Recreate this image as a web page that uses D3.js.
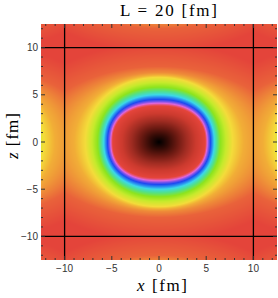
<!DOCTYPE html>
<html><head><meta charset="utf-8">
<script src="https://cdn.jsdelivr.net/npm/d3@7"></script>
<style>body{margin:0;background:#fff} svg{display:block}</style>
</head><body>
<script>
// Field level contours: where each level crosses the x axis and the z axis (fm)
const levels     = [2.0, 1.6, 1.2, 1.0, 0.83, 0.67, 0.5, 0.33, 0.25, 0.17, 0.13, 0.10, 0.05, 0.0];
const radiusX    = [0.0, 1.95, 3.9, 4.9, 5.1, 5.45, 5.85, 6.5, 7.1, 7.8, 9.0, 11.0, 13.5, 16.5];
const radiusZ    = [0.0, 1.5, 3.0, 3.8, 4.1, 4.5, 5.0, 5.8, 6.3, 6.85, 7.1, 7.35, 8.0, 10.5];
const squareness = [2.35, 2.35, 2.35, 2.35, 2.35, 2.3, 2.25, 2.2, 2.15, 2.1, 2.05, 2.0, 2.0, 2.0];
// periodic images of the box (L = 20 fm)
const imageShifts = [-20, 0, 20];
// colour function (cyclic hue, then darkening)
const colorStops = [0, 0.05, 0.10, 0.14, 0.17, 0.25, 0.33, 0.42, 0.5, 0.58, 0.67, 0.75, 0.83, 0.92, 1.0, 1.2, 1.4, 1.6, 1.8, 2.0];
const colorRange = ["#e4443a","#e9623a","#ee8c38","#f2b836","#f3dc3a","#c6ea2c","#8ce41e","#52e08a","#3cd8e8","#2a92f0","#1e48f0","#7452ea","#de66de","#e65274","#e4443a","#cc3a2e","#a02c22","#6c1a12","#340b06","#000000"];
// axes
const domain = [-12.5, 12.5];
const majorTicks = [-10, -5, 0, 5, 10];
const minorTicks = d3.range(-12, 13);
const boxLines = [-10, 10];
const title = "L = 20 [fm]";

(function () {
const W = 278, H = 298;
const pl = 41, pt = 24, size = 236;
const xs = d3.scaleLinear().domain(domain).range([pl, pl + size]);
const ys = d3.scaleLinear().domain(domain).range([pt + size, pt]);
const color = d3.scaleLinear().domain(colorStops).range(colorRange).interpolate(d3.interpolateRgb).clamp(true);

function field(dx, dz) {
  const r = Math.hypot(dx, dz);
  if (r === 0) return levels[0];
  const c = Math.abs(dx) / r, s = Math.abs(dz) / r;
  let prevR = 0, prevT = levels[0];
  for (let k = 1; k < levels.length; k++) {
    const p = squareness[k];
    let R = 1 / Math.pow(Math.pow(c / radiusX[k], p) + Math.pow(s / radiusZ[k], p), 1 / p);
    if (R <= prevR) R = prevR + 1e-6;
    if (r <= R) return prevT + (levels[k] - prevT) * (r - prevR) / (R - prevR);
    prevR = R; prevT = levels[k];
  }
  return levels[levels.length - 1];
}

const canvas = document.createElement("canvas");
canvas.width = size; canvas.height = size;
const ctx = canvas.getContext("2d");
const img = ctx.createImageData(size, size);
for (let j = 0; j < size; j++) {
  const z = ys.invert(pt + j + 0.5);
  for (let i = 0; i < size; i++) {
    const x = xs.invert(pl + i + 0.5);
    let t = 0;
    for (const sx of imageShifts) for (const sz of imageShifts) {
      const v = field(x - sx, z - sz);
      if (v > t) t = v;
    }
    const c = d3.rgb(color(t));
    const o = (j * size + i) * 4;
    img.data[o] = c.r; img.data[o + 1] = c.g; img.data[o + 2] = c.b; img.data[o + 3] = 255;
  }
}
ctx.putImageData(img, 0, 0);

const svg = d3.select("body").append("svg").attr("width", W).attr("height", H);
svg.append("image").attr("x", pl).attr("y", pt).attr("width", size).attr("height", size)
  .attr("preserveAspectRatio", "none").attr("href", canvas.toDataURL());

svg.selectAll("line.vx").data(boxLines).join("line").attr("class", "vx")
  .attr("x1", d => xs(d)).attr("x2", d => xs(d)).attr("y1", pt).attr("y2", pt + size)
  .attr("stroke", "#000").attr("stroke-width", 1.3);
svg.selectAll("line.hz").data(boxLines).join("line").attr("class", "hz")
  .attr("y1", d => ys(d)).attr("y2", d => ys(d)).attr("x1", pl).attr("x2", pl + size)
  .attr("stroke", "#000").attr("stroke-width", 1.3);

const tickG = svg.append("g").attr("stroke", "#333").attr("stroke-width", 1);
const ticks = minorTicks.map(v => ({v, len: majorTicks.includes(v) ? 4 : 2}));
tickG.selectAll("line.b").data(ticks).join("line").attr("class", "b").attr("x1", d => xs(d.v)).attr("x2", d => xs(d.v))
  .attr("y1", pt + size).attr("y2", d => pt + size - d.len);
tickG.selectAll("line.t").data(ticks).join("line").attr("class", "t").attr("x1", d => xs(d.v)).attr("x2", d => xs(d.v))
  .attr("y1", pt).attr("y2", d => pt + d.len);
tickG.selectAll("line.l").data(ticks).join("line").attr("class", "l").attr("y1", d => ys(d.v)).attr("y2", d => ys(d.v))
  .attr("x1", pl).attr("x2", d => pl + d.len);
tickG.selectAll("line.r").data(ticks).join("line").attr("class", "r").attr("y1", d => ys(d.v)).attr("y2", d => ys(d.v))
  .attr("x1", pl + size).attr("x2", d => pl + size - d.len);

const fmt = d => d < 0 ? "\u2212" + Math.abs(d) : String(d);
svg.selectAll("text.xl").data(majorTicks).join("text").attr("class", "xl")
  .attr("x", d => xs(d)).attr("y", 272).attr("text-anchor", "middle")
  .attr("font-family", "Liberation Sans, Arial, sans-serif").attr("font-size", 10).attr("fill", "#333")
  .text(fmt);
svg.selectAll("text.yl").data(majorTicks).join("text").attr("class", "yl")
  .attr("x", 38).attr("y", d => ys(d) + 3.5).attr("text-anchor", "end")
  .attr("font-family", "Liberation Sans, Arial, sans-serif").attr("font-size", 10).attr("fill", "#333")
  .text(fmt);

const serif = "Liberation Serif, Times New Roman, serif";
svg.append("text").attr("x", 168.5).attr("y", 15.5).attr("text-anchor", "middle")
  .attr("font-family", serif).attr("font-size", 17).attr("textLength", 97).attr("lengthAdjust", "spacing")
  .text(title);

const xl = svg.append("text").attr("x", 162).attr("y", 291).attr("text-anchor", "middle")
  .attr("font-family", serif).attr("font-size", 17).attr("textLength", 50).attr("lengthAdjust", "spacing");
xl.append("tspan").attr("font-style", "italic").text("x");
xl.append("tspan").text(" [fm]");

const yl = svg.append("text").attr("transform", "translate(18,136) rotate(-90)").attr("text-anchor", "middle")
  .attr("font-family", serif).attr("font-size", 17).attr("textLength", 46).attr("lengthAdjust", "spacing");
yl.append("tspan").attr("font-style", "italic").text("z");
yl.append("tspan").text(" [fm]");
})();
</script>
</body></html>
